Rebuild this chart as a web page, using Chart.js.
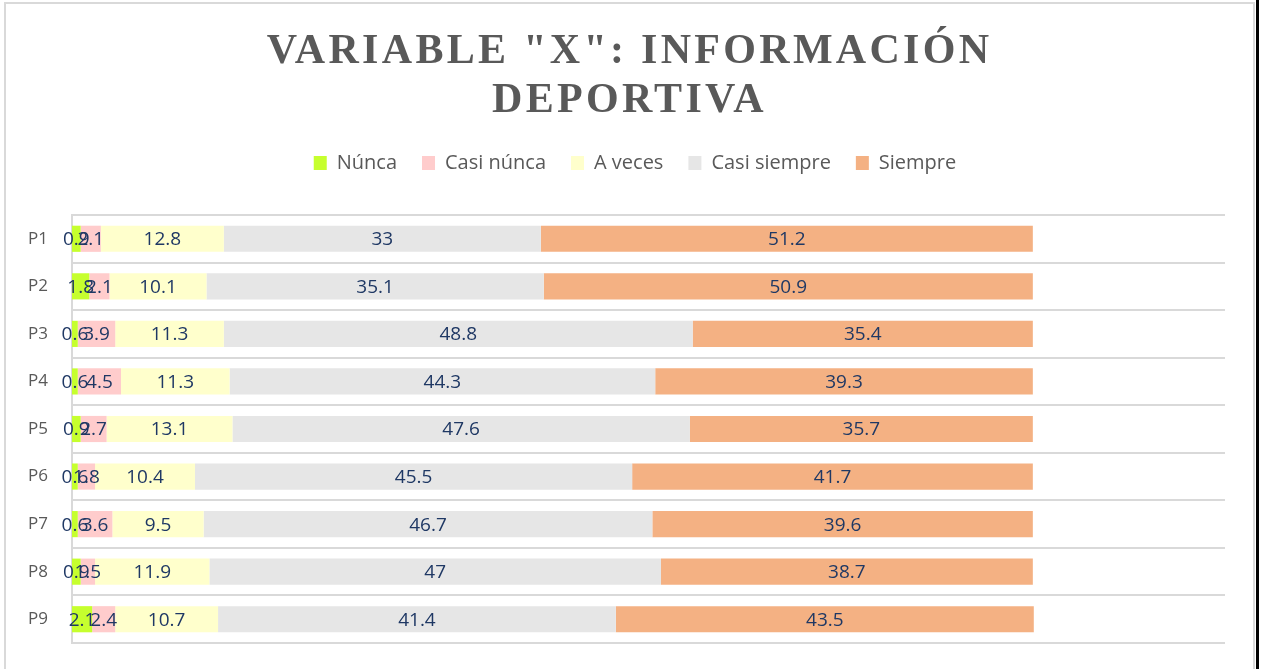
<!DOCTYPE html>
<html>
<head>
<meta charset="utf-8">
<script src="https://cdn.jsdelivr.net/npm/chart.js@4/dist/chart.umd.min.js"></script>
<style>
html, body { margin: 0; padding: 0; background: #fff; }
#wrap { position: relative; width: 1265px; height: 669px; overflow: hidden; }
#frame { position: absolute; left: 4px; top: 2px; width: 1247px; height: 700px;
  border-left: 2px solid #d9d9d9; border-top: 2px solid #d9d9d9; border-right: 2px solid #d9d9d9; }
#edge { position: absolute; left: 1256px; top: 0; width: 3px; height: 669px; background: #000; }
canvas { position: absolute; left: 0; top: 0; }
</style>
</head>
<body>
<div id="wrap">
  <div id="frame"></div>
  <div id="edge"></div>
  <canvas id="barchart" width="1265" height="669"></canvas>
</div>
<script>
// data (percent per answer)
const categories = ['P1', 'P2', 'P3', 'P4', 'P5', 'P6', 'P7', 'P8', 'P9'];
const seriesNames = ['Núnca', 'Casi núnca', 'A veces', 'Casi siempre', 'Siempre'];
const nunca       = [0.9, 1.8, 0.6, 0.6, 0.9, 0.6, 0.6, 0.9, 2.1];
const casiNunca   = [2.1, 2.1, 3.9, 4.5, 2.7, 1.8, 3.6, 1.5, 2.4];
const aVeces      = [12.8, 10.1, 11.3, 11.3, 13.1, 10.4, 9.5, 11.9, 10.7];
const casiSiempre = [33, 35.1, 48.8, 44.3, 47.6, 45.5, 46.7, 47, 41.4];
const siempre     = [51.2, 50.9, 35.4, 39.3, 35.7, 41.7, 39.6, 38.7, 43.5];
const titleLines  = ['VARIABLE "X": INFORMACIÓN', 'DEPORTIVA'];

const colors = ['#c6ff2e', '#ffcccc', '#ffffcc', '#e6e6e6', '#f4b183'];
const values = [nunca, casiNunca, aVeces, casiSiempre, siempre];

// title with letter spacing, drawn on the canvas
const titlePlugin = {
  id: 'spacedTitle',
  afterLayout(chart) {
    // legend is centred over the whole frame, not only the plot
    chart.legend.left += 45;
  },
  afterDraw(chart) {
    const ctx = chart.ctx;
    ctx.save();
    ctx.font = 'bold 42px "Liberation Serif", "Times New Roman", serif';
    ctx.letterSpacing = '3.3px';
    ctx.fillStyle = '#595959';
    ctx.textAlign = 'center';
    ctx.textBaseline = 'alphabetic';
    const cx = chart.width / 2 - 3;
    ctx.fillText(titleLines[0], cx, 63);
    ctx.fillText(titleLines[1], cx, 112);
    ctx.restore();
  }
};

// value labels centred in each segment
const labelPlugin = {
  id: 'segLabels',
  afterDatasetsDraw(chart) {
    const ctx = chart.ctx;
    ctx.save();
    ctx.font = '19px "Open Sans", sans-serif';
    ctx.fillStyle = '#1f3864';
    ctx.textAlign = 'center';
    ctx.textBaseline = 'middle';
    chart.data.datasets.forEach((ds, i) => {
      chart.getDatasetMeta(i).data.forEach((bar, j) => {
        ctx.fillText(String(ds.data[j]), (bar.x + bar.base) / 2, bar.y + 1);
      });
    });
    ctx.restore();
  }
};

const ctx = document.getElementById('barchart').getContext('2d');
const barchart = new Chart(ctx, {
  type: 'bar',
  data: {
    labels: categories,
    datasets: seriesNames.map((name, i) => ({
      label: name,
      data: values[i],
      backgroundColor: colors[i],
      borderWidth: 0,
      barPercentage: 0.55,
      categoryPercentage: 1
    }))
  },
  options: {
    indexAxis: 'y',
    responsive: false,
    animation: false,
    layout: { padding: { top: 128, right: 40, bottom: 26, left: 0 } },
    plugins: {
      legend: {
        position: 'top',
        labels: {
          boxWidth: 13,
          boxHeight: 14,
          padding: 25,
          color: '#595959',
          font: { size: 20, family: '"Open Sans", sans-serif' }
        }
      },
      tooltip: { enabled: false }
    },
    scales: {
      x: {
        stacked: true,
        min: 0,
        max: 120,
        position: 'top',
        ticks: { display: false },
        grid: { display: false },
        border: { display: false },
        afterFit: (s) => { s.height = 32; }
      },
      y: {
        stacked: true,
        grid: { color: '#d9d9d9', lineWidth: 2, drawTicks: false, offset: true },
        border: { color: '#d9d9d9', width: 2 },
        ticks: { color: '#595959', padding: 24, font: { size: 17, family: '"Open Sans", sans-serif' } },
        afterFit: (s) => { s.width = 72; s.paddingTop = 0; s.paddingBottom = 0; }
      }
    }
  },
  plugins: [titlePlugin, labelPlugin]
});
</script>
</body>
</html>
